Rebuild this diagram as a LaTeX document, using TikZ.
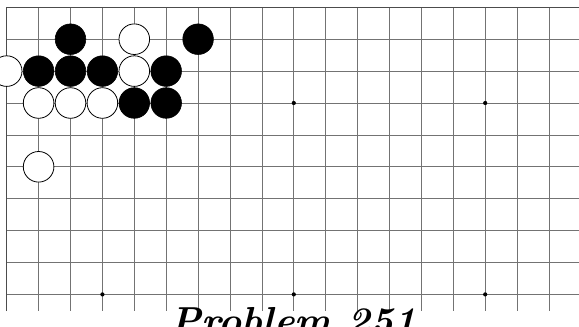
\documentclass[tikz,border=0pt]{standalone}
\begin{document}
\begin{tikzpicture}[x=1pt,y=-1pt,
  gridline/.style={draw=black!55,line width=0.8pt},
  edgeline/.style={draw=black!70,line width=1.4pt},
  bstone/.style={circle,fill=black,draw=black,line width=0.6pt,minimum size=30.6pt,inner sep=0pt},
  wstone/.style={circle,fill=white,draw=black,line width=0.8pt,minimum size=30.6pt,inner sep=0pt},
  hoshi/.style={circle,fill=black,minimum size=4.2pt,inner sep=0pt},
  title/.style={font=\fontsize{39}{41}\selectfont\bfseries\itshape,inner sep=0pt,anchor=base}]
\useasboundingbox (0,0) rectangle (579,327);
\clip (0,0) rectangle (579,327);
\def\xo{6.7}\def\yo{7.3}\def\s{31.9}
% vertical lines
\foreach \i in {1,...,18} {
  \draw[gridline] ({\xo+\i*\s},\yo) -- ({\xo+\i*\s},311);
}
% horizontal lines
\foreach \j in {1,...,9} {
  \draw[gridline] (\xo,{\yo+\j*\s}) -- (585,{\yo+\j*\s});
}
% edges
\draw[edgeline] (\xo,311) -- (\xo,\yo) -- (585,\yo);
% hoshi
\foreach \c/\r [count=\k] in {9/3,15/3,3/9,9/9,15/9} {
  \node[hoshi] (h\k) at ({\xo+\c*\s},{\yo+\r*\s}) {};
}
% stones
\foreach \c/\r [count=\k] in {2/1,6/1,1/2,2/2,3/2,5/2,4/3,5/3} {
  \node[bstone] (b\k) at ({\xo+\c*\s},{\yo+\r*\s}) {};
}
\foreach \c/\r [count=\k] in {4/1,0/2,4/2,1/3,2/3,3/3,1/5} {
  \node[wstone] (w\k) at ({\xo+\c*\s},{\yo+\r*\s}) {};
}
\node[title] (t) at ({\xo+9*\s},334) {Problem 251};
\end{tikzpicture}
\end{document}
